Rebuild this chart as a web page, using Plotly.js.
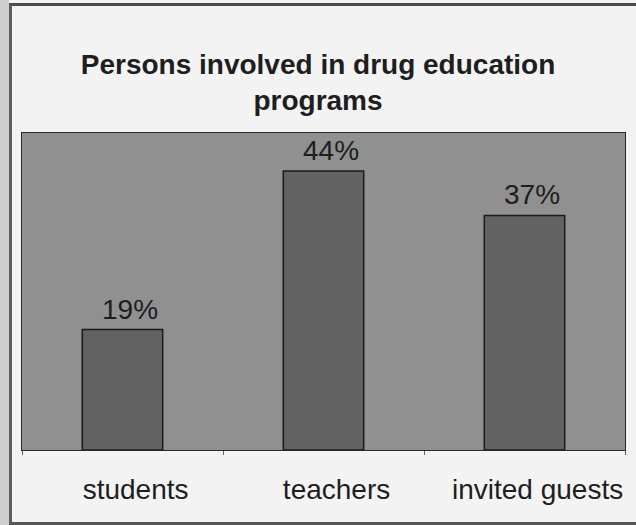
<!DOCTYPE html>
<html>
<head>
<meta charset="utf-8">
<script src="https://cdn.plot.ly/plotly-3.0.1.min.js"></script>
<style>
  html, body { margin: 0; padding: 0; background: #f2f2f2; }
  #wrap { position: relative; width: 636px; height: 525px; overflow: hidden; }
  #chart { width: 636px; height: 525px; }
  #strip { position: absolute; left: 0; top: 0; width: 9px; height: 525px; background: #cfcfcf; pointer-events: none; }
  #frame { position: absolute; left: 9px; top: 3px; width: 640px; height: 516px;
           border-left: 3px solid #5e5e5e; border-top: 3px solid #4a4a4a; border-bottom: 3px solid #555;
           pointer-events: none; }
</style>
</head>
<body>
<div id="wrap">
  <div id="chart"></div>
  <div id="strip"></div>
  <div id="frame"></div>
</div>
<script>
const categories = ["students", "teachers", "invited guests"];
const percentValues = [19, 44, 37];
const valueLabels = ["19%", "44%", "37%"];
const chartTitle = "Persons involved in drug education<br>programs";

const FONT = "Liberation Sans, Arial, sans-serif";
const labelOffset = 0.065; // category labels sit slightly right of the bars

const bars = {
  type: "bar",
  x: categories,
  y: percentValues,
  marker: { color: "#626262", line: { color: "#1a1a1a", width: 1.5 } },
  width: 0.4,
  hoverinfo: "skip"
};

// invisible copy carrying the category tick labels on a slightly shifted axis
const labelCarrier = {
  type: "bar",
  x: categories,
  y: percentValues,
  xaxis: "x2",
  yaxis: "y",
  marker: { color: "rgba(0,0,0,0)" },
  hoverinfo: "skip",
  showlegend: false
};

const labelAnnotations = categories.map((c, i) => ({
  x: c,
  y: percentValues[i],
  xref: "x",
  yref: "y",
  text: valueLabels[i],
  showarrow: false,
  xanchor: "center",
  yanchor: "bottom",
  xshift: 7,
  yshift: 3,
  font: { family: FONT, size: 28, color: "#1e1e1e" }
}));

const layout = {
  width: 636,
  height: 525,
  margin: { l: 22, r: 11, t: 133, b: 75 },
  paper_bgcolor: "#f3f3f3",
  plot_bgcolor: "#909090",
  showlegend: false,
  title: {
    text: chartTitle,
    x: 0.5,
    xanchor: "center",
    y: 1 - 74 / 525,
    yanchor: "middle",
    yref: "container",
    font: { family: FONT, size: 28, color: "#1e1e1e", weight: "bold" }
  },
  annotations: labelAnnotations,
  xaxis: {
    type: "category",
    range: [-0.5, 2.5],
    showgrid: false,
    zeroline: false,
    showline: true,
    linecolor: "#2a2a2a",
    linewidth: 1,
    mirror: true,
    ticks: "outside",
    tickson: "boundaries",
    ticklen: 4,
    tickcolor: "#666",
    showticklabels: false,
    fixedrange: true
  },
  xaxis2: {
    type: "category",
    overlaying: "x",
    anchor: "y",
    side: "bottom",
    range: [-0.5 - labelOffset, 2.5 - labelOffset],
    showgrid: false,
    zeroline: false,
    showline: false,
    ticks: "",
    ticklabelstandoff: 20,
    tickfont: { family: FONT, size: 28, color: "#1e1e1e" },
    fixedrange: true
  },
  yaxis: {
    range: [0, 50],
    showgrid: false,
    zeroline: false,
    showline: true,
    linecolor: "#2a2a2a",
    linewidth: 1,
    mirror: true,
    showticklabels: false,
    ticks: "",
    fixedrange: true
  }
};

Plotly.newPlot("chart", [bars, labelCarrier], layout, { displayModeBar: false, staticPlot: true });
</script>
</body>
</html>
